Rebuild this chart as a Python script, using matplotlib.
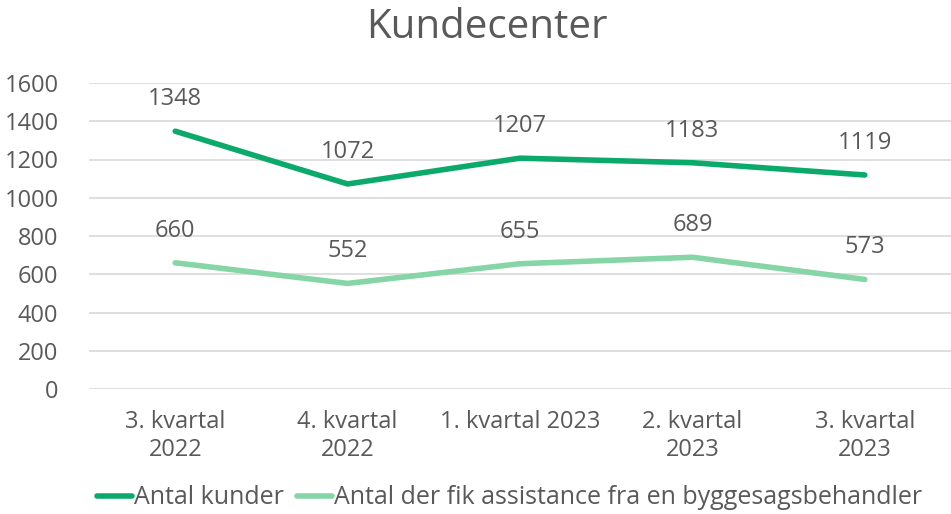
import matplotlib.pyplot as plt

plt.rcParams['font.family'] = ['Open Sans', 'DejaVu Sans']

# Data
kvartaler = ["3. kvartal\n2022", "4. kvartal\n2022", "1. kvartal 2023",
             "2. kvartal\n2023", "3. kvartal\n2023"]
antal_kunder = [1348, 1072, 1207, 1183, 1119]
antal_assistance = [660, 552, 655, 689, 573]

GRAA = "#595959"
MOERK = "#0BAA6B"
LYS = "#85D5A7"
FS = 17

fig = plt.figure(figsize=(9.51, 5.14), dpi=100)
ax = fig.add_axes([89/951, 125/514, 1 - 89/951, 306/514])

x = range(len(kvartaler))
ax.plot(x, antal_kunder, color=MOERK, lw=4, solid_capstyle='round',
        label="Antal kunder")
ax.plot(x, antal_assistance, color=LYS, lw=4, solid_capstyle='round',
        label="Antal der fik assistance fra en byggesagsbehandler")

for xi, v in zip(x, antal_kunder):
    ax.annotate(str(v), (xi, v), xytext=(0, 23), textcoords='offset points',
                ha='center', va='center', fontsize=FS, color=GRAA)
for xi, v in zip(x, antal_assistance):
    ax.annotate(str(v), (xi, v), xytext=(0, 23), textcoords='offset points',
                ha='center', va='center', fontsize=FS, color=GRAA)

ax.set_xlim(-0.5, len(kvartaler) - 0.5)
ax.set_ylim(0, 1600)
ax.set_yticks(range(0, 1601, 200))
ax.set_xticks(list(x))
ax.set_xticklabels(kvartaler, fontsize=FS, color=GRAA, linespacing=1.25)
ax.tick_params(axis='y', labelsize=FS, labelcolor=GRAA, length=0, pad=22)
ax.tick_params(axis='x', length=0, pad=15)
ax.grid(axis='y', color="#D9D9D9", lw=1.2)
ax.set_axisbelow(True)
for s in ax.spines.values():
    s.set_visible(False)

fig.text(0.512, 1 - 28/514, "Kundecenter", ha='center', va='center',
         fontsize=29, color=GRAA)

fig.legend(loc='center', bbox_to_anchor=(0.536, 1 - 498/514), ncol=2,
           frameon=False, fontsize=18, labelcolor=GRAA, handlelength=1.4,
           handletextpad=0.1, columnspacing=0.5)

fig.savefig("out.png", dpi=100)
